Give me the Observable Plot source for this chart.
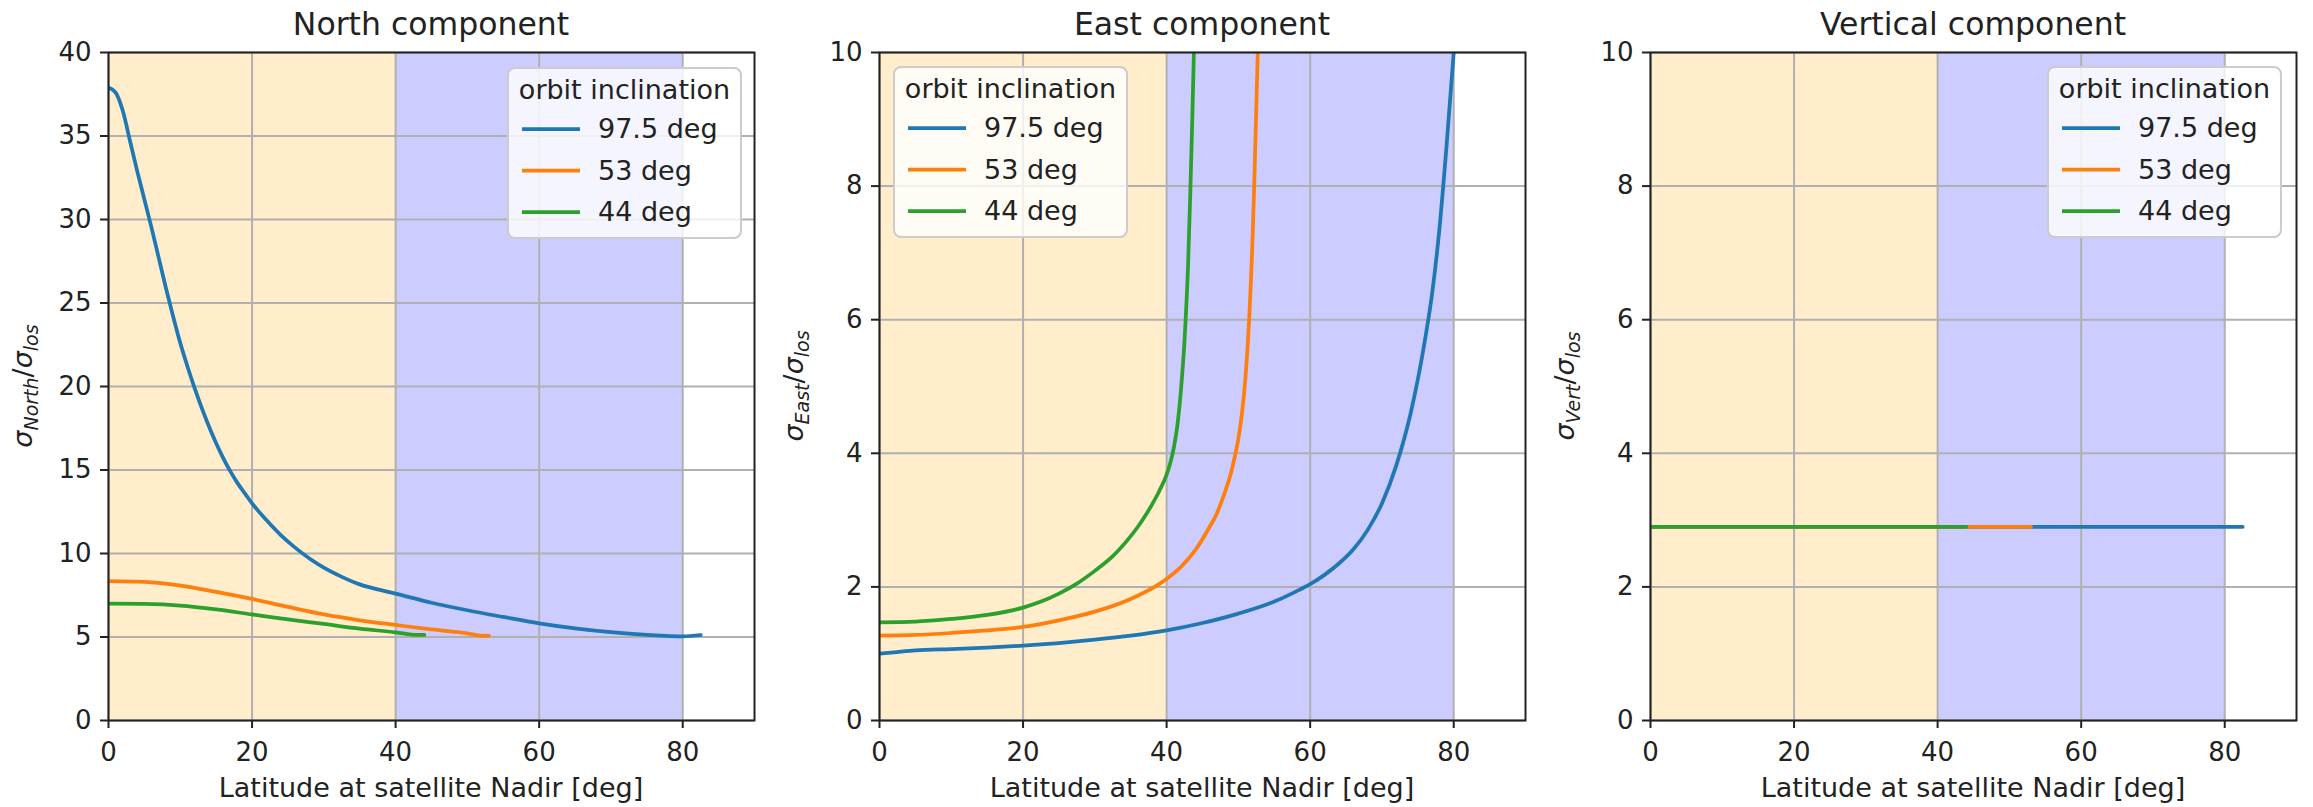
<!DOCTYPE html>
<html><head><meta charset="utf-8">
<script src="https://cdn.jsdelivr.net/npm/d3@7"></script>
<script src="https://cdn.jsdelivr.net/npm/@observablehq/plot@0.6"></script>
<style>
html,body{margin:0;padding:0;background:#fff;}
#fig{position:relative;width:2313px;height:807px;overflow:hidden;background:#fff;}
#fig svg{position:absolute;top:0;}
</style></head><body><div id="fig"></div>
<script>
// ---------- data ----------
const seriesNames = ["97.5 deg", "53 deg", "44 deg"];
const seriesColors = ["#1f77b4", "#ff7f0e", "#2ca02c"];
const panelTitles = ["North component", "East component", "Vertical component"];
const yLabelSubs = ["North", "East", "Vert"];
const legendTitle = "orbit inclination";
const xLabel = "Latitude at satellite Nadir [deg]";
const xTicks = [0, 20, 40, 60, 80];
const yTicksNorth = [0, 5, 10, 15, 20, 25, 30, 35, 40];
const yTicksOther = [0, 2, 4, 6, 8, 10];
const bandStart = [0, 40];
const bandEnd = [40, 80];
const bandColors = ["#ffedcc", "#ccccff"];

// North component
const northLat975 = [0,1,2,3,4,5,6,7,8,9,10,11,12,13,14,15,16,17,18,19,20,22,24,26,28,30,32.5,35,37.5,40,45,50,55,60,65,70,75,80,82.5];
const northVal975 = [37.9,37.6,36.5,34.7,32.9,31.2,29.5,27.7,25.9,24.2,22.6,21.2,19.9,18.7,17.6,16.6,15.7,14.9,14.2,13.6,13.0,12.0,11.1,10.35,9.7,9.15,8.6,8.15,7.85,7.6,7.05,6.6,6.2,5.82,5.52,5.29,5.13,5.04,5.12];
const northLat53 = [0,5,10,15,20,25,30,35,40,45,50,52,53];
const northVal53 = [8.35,8.3,8.08,7.7,7.28,6.8,6.35,6.0,5.72,5.45,5.22,5.07,5.08];
const northLat44 = [0,5,10,15,20,25,30,35,40,43,44];
const northVal44 = [7.0,6.98,6.88,6.65,6.35,6.05,5.78,5.5,5.28,5.12,5.13];

// East component
const eastLat975 = [0,2,5,10,15,20,25,30,35,40,45,50,55,58,60,62,64,66,68,70,72,74,76,77,78,79,80];
const eastVal975 = [1.0,1.02,1.05,1.07,1.09,1.12,1.16,1.21,1.27,1.35,1.46,1.6,1.78,1.93,2.04,2.18,2.35,2.56,2.85,3.25,3.82,4.6,5.7,6.4,7.35,8.6,10.0];
const eastLat53 = [0,5,10,15,20,25,30,35,40,42,44,46,47,48,49,49.6,50,50.5,51,51.5,52,52.2,52.5,52.7];
const eastVal53 = [1.27,1.28,1.31,1.35,1.4,1.5,1.63,1.82,2.12,2.3,2.55,2.9,3.1,3.38,3.72,4.0,4.22,4.6,5.15,6.0,7.3,8.0,9.2,10.0];
const eastLat44 = [0,5,10,15,20,22.5,25,27.5,30,32.5,35,36,37,38,39,40,40.5,41,41.5,42,42.5,43,43.3,43.6,43.8];
const eastVal44 = [1.47,1.48,1.52,1.58,1.69,1.78,1.9,2.05,2.24,2.46,2.76,2.9,3.06,3.24,3.44,3.68,3.85,4.08,4.42,4.95,5.7,6.85,7.9,9.1,10.0];

// Vertical component
const vertLat975 = [0, 82.5];
const vertVal975 = [2.9, 2.9];
const vertLat53 = [0, 53];
const vertVal53 = [2.9, 2.9];
const vertLat44 = [0, 44];
const vertVal44 = [2.9, 2.9];

const panels = [
  {lats: [northLat975, northLat53, northLat44], vals: [northVal975, northVal53, northVal44], yMax: 40, yTicks: yTicksNorth,
   frameLeft: 108, frameWidth: 646, legendRight: 13, legendLeft: null, legendY: 68},
  {lats: [eastLat975, eastLat53, eastLat44], vals: [eastVal975, eastVal53, eastVal44], yMax: 10, yTicks: yTicksOther,
   frameLeft: 879, frameWidth: 646, legendRight: null, legendLeft: 15, legendY: 67},
  {lats: [vertLat975, vertLat53, vertLat44], vals: [vertVal975, vertVal53, vertVal44], yMax: 10, yTicks: yTicksOther,
   frameLeft: 1650, frameWidth: 646, legendRight: 15, legendLeft: null, legendY: 67}
];

// ---------- drawing ----------
const H = 807, mL = 108, mR = 17, mT = 52, mB = 87;
const fh = H - mT - mB;
const fig = document.getElementById("fig");
const bands = bandStart.map((s, i) => ({x1: s, x2: bandEnd[i]}));
const LW = 233, LH = 170;

panels.forEach((p, i) => {
  const W = mL + p.frameWidth + mR;
  const fw = p.frameWidth;
  const lineMarks = p.lats.map((lat, k) =>
    Plot.line(lat.map((x, j) => ({x, y: p.vals[k][j]})), {
      x: "x", y: "y", stroke: seriesColors[k], strokeWidth: 3.75, curve: "monotone-x", clip: true
    })
  );
  const plot = Plot.plot({
    width: W, height: H,
    marginLeft: mL, marginRight: mR, marginTop: mT, marginBottom: mB,
    style: {fontFamily: "DejaVu Sans", fontSize: "26px", color: "#222", background: "transparent", overflow: "visible"},
    x: {domain: [0, 90], label: null},
    y: {domain: [0, p.yMax], label: null},
    marks: [
      Plot.rect([bands[0]], {x1: "x1", x2: "x2", y1: 0, y2: p.yMax, fill: bandColors[0]}),
      Plot.rect([bands[1]], {x1: "x1", x2: "x2", y1: 0, y2: p.yMax, fill: bandColors[1]}),
      Plot.gridX(xTicks, {stroke: "#b0b0b0", strokeOpacity: 1, strokeWidth: 2}),
      Plot.gridY(p.yTicks, {stroke: "#b0b0b0", strokeOpacity: 1, strokeWidth: 2}),
      ...lineMarks,
      Plot.frame({stroke: "#222", strokeWidth: 2}),
      Plot.axisX(xTicks, {tickSize: 8, tickPadding: 14, strokeWidth: 2, label: null, fontSize: 26, tickFormat: d => String(d)}),
      Plot.axisY(p.yTicks, {tickSize: 8, tickPadding: 9, strokeWidth: 2, label: null, fontSize: 26, tickFormat: d => String(d)})
    ]
  });
  plot.style.left = (p.frameLeft - mL) + "px";
  fig.appendChild(plot);
  const svg = d3.select(plot);

  // title
  svg.append("text").attr("x", mL + fw / 2).attr("y", 35).attr("text-anchor", "middle")
    .attr("font-size", 31.5).attr("fill", "#222").text(panelTitles[i]);
  // x label
  svg.append("text").attr("x", mL + fw / 2).attr("y", 797).attr("text-anchor", "middle")
    .attr("font-size", 27).attr("fill", "#222").text(xLabel);
  // y label
  const yl = svg.append("text").attr("transform", `translate(32,${mT + fh / 2}) rotate(-90)`)
    .attr("text-anchor", "middle").attr("font-size", 27).attr("fill", "#222");
  yl.append("tspan").attr("font-style", "italic").text("σ");
  yl.append("tspan").attr("font-style", "italic").attr("font-size", 19).attr("dy", 6).text(yLabelSubs[i]);
  yl.append("tspan").attr("dy", -6).text("/");
  yl.append("tspan").attr("font-style", "italic").text("σ");
  yl.append("tspan").attr("font-style", "italic").attr("font-size", 19).attr("dy", 6).text("los");

  // legend
  const lx = p.legendLeft != null ? mL + p.legendLeft : mL + fw - p.legendRight - LW;
  const g = svg.append("g").attr("transform", `translate(${lx},${p.legendY})`);
  g.append("rect").attr("width", LW).attr("height", LH).attr("rx", 7)
    .attr("fill", "white").attr("fill-opacity", 0.8).attr("stroke", "#cccccc").attr("stroke-width", 2);
  g.append("text").attr("x", LW / 2).attr("y", 31).attr("text-anchor", "middle")
    .attr("font-size", 27).attr("fill", "#222").text(legendTitle);
  seriesNames.forEach((n, k) => {
    const yy = 61 + 41.5 * k;
    g.append("line").attr("x1", 14).attr("x2", 72).attr("y1", yy).attr("y2", yy)
      .attr("stroke", seriesColors[k]).attr("stroke-width", 3.75);
    g.append("text").attr("x", 90).attr("y", yy + 9).attr("text-anchor", "start")
      .attr("font-size", 27).attr("fill", "#222").text(n);
  });
});
</script></body></html>
